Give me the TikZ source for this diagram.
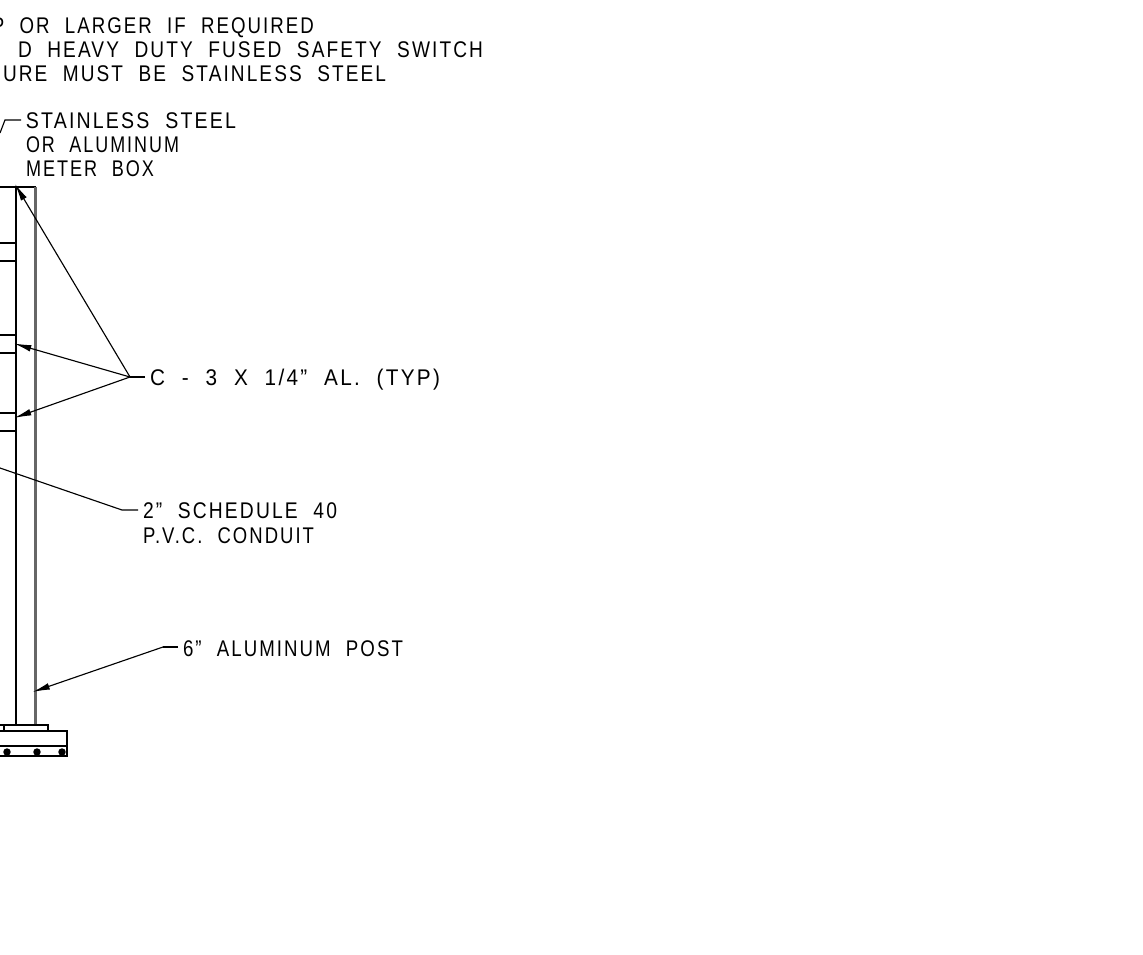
\documentclass[tikz,border=0pt]{standalone}
\usepackage{graphicx}
\usepackage{fontspec}
\setmainfont[LetterSpace=11,WordSpace=2.1]{Liberation Sans}
\usetikzlibrary{arrows.meta}
\newlength{\pxu}\setlength{\pxu}{0.75pt}
\newcommand{\fitw}[2]{\resizebox{#1\pxu}{\height}{#2}}
\tikzset{
  lbl/.style={anchor=base west,inner sep=0pt,outer sep=0pt,font=\fontsize{17pt}{20pt}\selectfont,text=black},
  objline/.style={draw=black,line width=1.5pt},
  postline/.style={draw=black!60,line width=1.6pt},
  leaderline/.style={draw=black,line width=0.85pt,line join=miter},
  arrowline/.style={leaderline,-{Latex[length=13pt,width=5pt]}}
}
\begin{document}
\begin{tikzpicture}[x=0.75pt,y=-0.75pt]
\useasboundingbox (0,0) rectangle (1143,954);
\fill[white] (0,0) rectangle (1143,954);
\clip (0,0) rectangle (1143,954);
% text
\node[lbl] (n1) at (-8,33) {\fitw{322}{P OR LARGER IF REQUIRED}};
\node[lbl] (n2) at (18,57) {\fitw{465}{D HEAVY DUTY FUSED SAFETY SWITCH}};
\node[lbl] (n3) at (3,81) {\fitw{383}{URE MUST BE STAINLESS STEEL}};
\node[lbl] (box1) at (26,128) {\fitw{210}{STAINLESS STEEL}};
\node[lbl] (box2) at (26,152) {\fitw{153}{OR ALUMINUM}};
\node[lbl] (box3) at (26,176) {\fitw{128}{METER BOX}};
\node[lbl] (chan) at (150,385) {\fitw{290}{C - 3 X 1/4" AL. (TYP)}};
\node[lbl] (pvc1) at (143,518) {\fitw{194}{2" SCHEDULE 40}};
\node[lbl] (pvc2) at (143,543) {\fitw{171}{P.V.C. CONDUIT}};
\node[lbl] (post) at (183,656) {\fitw{220}{6" ALUMINUM POST}};
% post
\draw[objline] (0,187) -- (35.5,187);
\draw[objline] (15.5,187) -- (15.5,725);
\draw[postline] (35.5,187) -- (35.5,725);
% channels
\draw[objline] (0,243) -- (15.5,243) (0,261) -- (15.5,261);
\draw[objline] (0,335) -- (15.5,335) (0,353) -- (15.5,353);
\draw[objline] (0,413) -- (15.5,413) (0,431) -- (15.5,431);
% base plate and footing
\draw[objline] (0,725) -- (48,725) -- (48,731);
\draw[objline] (4,725) -- (4,731);
\draw[objline] (0,731) -- (67,731) -- (67,755.5) -- (0,755.5);
\draw[objline] (0,746) -- (67,746);
\foreach \xx in {7,37,62} \fill[black] (\xx,752) circle (2.8pt);
% leader points
\coordinate (mbA) at (0,133);
\coordinate (mbB) at (5,120);
\coordinate (mbC) at (21,120);
\coordinate (hub) at (130,377);
\coordinate (hubEnd) at (145,377);
\coordinate (t1) at (15,184);
\coordinate (t2) at (14,343.5);
\coordinate (t3) at (14,418);
\coordinate (pA) at (0,468);
\coordinate (pB) at (122,510);
\coordinate (pC) at (138,510);
\coordinate (aT) at (32.5,692);
\coordinate (aB) at (163,647);
\coordinate (aC) at (178,647);
% leaders
\draw[leaderline] (mbA) -- (mbB) -- (mbC);
\draw[leaderline] (hubEnd) -- (hub);
\draw[arrowline] (hub) -- (t1);
\draw[arrowline] (hub) -- (t2);
\draw[arrowline] (hub) -- (t3);
\draw[leaderline] (pA) -- (pB) -- (pC);
\draw[leaderline] (aC) -- (aB);
\draw[arrowline] (aB) -- (aT);
\end{tikzpicture}
\end{document}
